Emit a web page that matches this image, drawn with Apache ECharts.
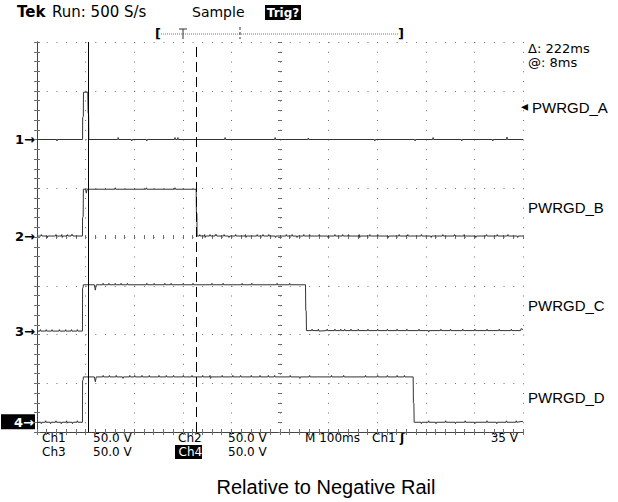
<!DOCTYPE html>
<html><head><meta charset="utf-8">
<script src="https://cdn.jsdelivr.net/npm/echarts@6/dist/echarts.min.js"></script>
<style>html,body{margin:0;padding:0;background:#fff}#c{width:618px;height:502px}</style>
</head><body><div id="c"></div>
<script>
// time axis: ms from left edge (M 100ms/div, 10 div); vertical axis: divisions (8 div)
const timeMin = 0, timeMax = 1000, timeStep = 100;
const divMin = 0, divMax = 8, divStep = 1;
const cursorA = 105, cursorB = 327; // ms
const channelNames = ['PWRGD_A', 'PWRGD_B', 'PWRGD_C', 'PWRGD_D'];
const groundLevels = [6.0, 4.02, 2.07, 0.2]; // channel reference markers (div)
const statusRow1 = ['Ch1', '50.0 V', 'Ch2', '50.0 V', 'M 100ms', 'Ch1', '35 V'];
const statusRow2 = ['Ch3', '50.0 V', 'Ch4', '50.0 V'];

const ch1 = [[0,6.0],[40,6.0],[41,5.97],[42,6.0],[93.8,6.0],[94,6.45],[95.3,6.47],[95.6,6.97],[104.5,6.97],[105.2,6.55],[106.2,6.52],[106.6,6.0],[166,6.0],[167,6.04],[168,6.0],[194,6.0],[195,5.97],[196,6.0],[225,6.0],[226,5.97],[227,6.0],[283,6.0],[284,6.04],[285,6.0],[289,6.0],[290,6.04],[291,6.0],[386,6.0],[387,6.04],[388,6.0],[489,6.0],[490,6.04],[491,6.0],[557,6.0],[558,6.03],[559,6.0],[694,6.0],[695,5.97],[696,6.0],[777,6.0],[778,5.97],[779,6.0],[814,6.0],[815,6.04],[816,6.0],[873,6.0],[874,5.97],[875,6.0],[937,6.0],[938,5.97],[939,6.0],[966,6.0],[967,6.05],[968,6.0],[1000,6.0]];

const ch2 = [[0,4.02],[8,4.02],[9,4.05],[10,4.02],[20,4.02],[21,3.99],[22,4.02],[38,4.02],[39,4.05],[40,4.02],[50,4.02],[51,4.05],[52,3.99],[53,4.02],[62,4.02],[63,4.05],[64,4.02],[70,4.02],[71,4.05],[72,4.03],[73,4.05],[74,4.02],[93.5,4.02],[93.8,4.4],[95,4.42],[95.4,4.98],[100,4.98],[101.5,4.9],[103,4.98],[160,4.98],[161,5.01],[162,4.98],[224,4.98],[225,5.01],[226,4.98],[283,4.98],[284,5.01],[285,4.98],[327.5,4.98],[328,4.5],[329,4.48],[329.4,4.02],[334,4.02],[335,4.05],[336,4.02],[344,4.02],[345,4.05],[346,3.99],[347,4.02],[355,4.02],[356,4.05],[357,4.02],[366,4.02],[367,4.05],[368,4.03],[369,4.05],[370,4.02],[384,4.02],[385,4.05],[386,4.02],[394,4.02],[395,3.99],[396,4.02],[408,4.02],[409,4.05],[410,4.02],[428,4.02],[429,4.05],[430,3.99],[431,4.02],[452,4.02],[453,4.05],[454,4.02],[464,4.02],[465,4.05],[466,4.02],[476,4.02],[477,4.05],[478,4.02],[490,4.02],[491,3.99],[492,4.02],[512,4.02],[513,4.05],[514,4.02],[524,4.02],[525,4.05],[526,4.02],[534,4.02],[535,3.99],[536,4.02],[548,4.02],[549,4.05],[550,4.02],[560,4.02],[561,4.05],[562,4.02],[580,4.02],[581,4.05],[582,4.02],[598,4.02],[599,3.99],[600,4.02],[612,4.02],[613,4.05],[614,4.02],[628,4.02],[629,4.05],[630,4.02],[640,4.02],[641,4.05],[642,4.02],[662,4.02],[663,4.05],[664,3.99],[665,4.02],[684,4.02],[685,4.05],[686,4.02],[700,4.02],[701,4.05],[702,4.02],[722,4.02],[723,3.99],[724,4.02],[744,4.02],[745,4.05],[746,4.02],[762,4.02],[763,4.05],[764,4.02],[790,4.02],[791,4.05],[792,4.02],[810,4.02],[811,3.99],[812,4.02],[834,4.02],[835,4.05],[836,4.02],[858,4.02],[859,4.05],[860,4.02],[878,4.02],[879,4.05],[880,4.02],[902,4.02],[903,3.99],[904,4.02],[924,4.02],[925,4.05],[926,4.02],[946,4.02],[947,4.05],[948,4.02],[968,4.02],[969,4.05],[970,4.02],[988,4.02],[989,3.99],[990,4.02],[1000,4.02]];

const ch3 = [[0,2.07],[6,2.07],[7,2.1],[8,2.07],[18,2.07],[19,2.1],[20,2.07],[30,2.07],[31,2.1],[32,2.07],[45,2.07],[46,2.1],[47,2.07],[58,2.07],[59,2.1],[60,2.07],[70,2.07],[71,2.1],[72,2.07],[82,2.07],[83,2.1],[84,2.07],[93.5,2.07],[93.8,2.95],[95,2.97],[95.4,3.02],[118,3.02],[120,2.91],[122,3.02],[135,3.02],[136,3.05],[137,3.02],[147,3.02],[148,3.05],[149,3.02],[160,3.02],[161,3.05],[162,3.02],[172,3.02],[173,3.05],[174,3.02],[185,3.02],[186,3.05],[187,3.02],[225,3.02],[226,3.05],[227,3.02],[240,3.02],[241,3.05],[242,3.02],[262,3.02],[263,3.05],[264,3.02],[275,3.02],[276,3.05],[277,3.02],[300,3.02],[301,3.05],[302,3.02],[320,3.02],[321,3.05],[322,3.02],[359,3.02],[360,3.05],[361,3.02],[382,3.02],[383,3.05],[384,3.02],[421,3.02],[422,3.05],[423,3.02],[441,3.02],[442,3.05],[443,3.02],[493,3.02],[494,3.05],[495,3.02],[519,3.02],[520,3.05],[521,3.02],[552.5,3.02],[553,2.5],[554,2.48],[554.4,2.08],[565,2.08],[566,2.11],[567,2.08],[578,2.08],[579,2.11],[580,2.07],[581,2.08],[596,2.08],[597,2.11],[598,2.08],[612,2.08],[613,2.11],[614,2.08],[624,2.08],[625,2.11],[626,2.08],[632,2.08],[633,2.11],[634,2.08],[645,2.08],[646,2.11],[647,2.08],[660,2.08],[661,2.11],[662,2.08],[680,2.08],[681,2.11],[682,2.08],[700,2.08],[701,2.11],[702,2.08],[720,2.08],[721,2.11],[722,2.08],[740,2.08],[741,2.11],[742,2.08],[760,2.08],[761,2.11],[762,2.08],[785,2.08],[786,2.11],[787,2.08],[805,2.08],[806,2.05],[807,2.08],[830,2.08],[831,2.11],[832,2.08],[850,2.08],[851,2.11],[852,2.08],[875,2.08],[876,2.11],[877,2.08],[900,2.08],[901,2.11],[902,2.08],[925,2.08],[926,2.11],[927,2.08],[950,2.08],[951,2.11],[952,2.08],[975,2.08],[976,2.11],[977,2.08],[995,2.08],[996,2.12],[1000,2.1]];

const ch4 = [[0,0.2],[8,0.2],[9,0.17],[10,0.2],[17,0.2],[18,0.23],[19,0.2],[27,0.2],[28,0.17],[29,0.2],[38,0.2],[39,0.23],[40,0.2],[49,0.2],[50,0.17],[51,0.2],[60,0.2],[61,0.23],[62,0.18],[63,0.2],[72,0.2],[73,0.17],[74,0.2],[82,0.2],[83,0.23],[84,0.2],[93.5,0.2],[93.8,1.05],[95,1.07],[95.4,1.13],[118,1.13],[120,1.03],[122,1.13],[135,1.13],[136,1.16],[137,1.13],[148,1.13],[149,1.16],[150,1.13],[162,1.13],[163,1.16],[164,1.13],[176,1.13],[177,1.1],[178,1.13],[190,1.13],[191,1.16],[192,1.13],[200,1.13],[201,1.16],[202,1.13],[215,1.13],[216,1.16],[217,1.13],[230,1.13],[231,1.16],[232,1.13],[250,1.13],[251,1.16],[252,1.13],[265,1.13],[266,1.16],[267,1.13],[280,1.13],[281,1.16],[282,1.13],[300,1.13],[301,1.16],[302,1.13],[318,1.13],[319,1.16],[320,1.13],[340,1.13],[341,1.16],[342,1.13],[355,1.13],[356,1.16],[357,1.1],[358,1.13],[380,1.13],[381,1.16],[382,1.13],[402,1.13],[403,1.16],[404,1.13],[418,1.13],[419,1.16],[420,1.13],[440,1.13],[441,1.16],[442,1.13],[458,1.13],[459,1.16],[460,1.13],[475,1.13],[476,1.16],[477,1.13],[488,1.13],[489,1.16],[490,1.13],[520,1.13],[521,1.16],[522,1.13],[540,1.13],[541,1.1],[542,1.13],[560,1.13],[561,1.16],[562,1.13],[605,1.13],[606,1.16],[607,1.13],[630,1.13],[631,1.16],[632,1.13],[675,1.13],[676,1.16],[677,1.13],[700,1.13],[701,1.16],[702,1.13],[720,1.13],[721,1.16],[722,1.13],[740,1.13],[741,1.16],[742,1.13],[755,1.13],[756,1.16],[757,1.13],[774,1.13],[774.5,0.6],[775.5,0.58],[776,0.2],[790,0.2],[791,0.17],[792,0.2],[805,0.2],[806,0.23],[807,0.2],[820,0.2],[821,0.17],[822,0.2],[840,0.2],[841,0.23],[842,0.2],[860,0.2],[861,0.17],[862,0.2],[880,0.2],[881,0.23],[882,0.2],[900,0.2],[901,0.17],[902,0.2],[925,0.2],[926,0.23],[927,0.2],[945,0.2],[946,0.17],[947,0.2],[965,0.2],[966,0.23],[967,0.2],[985,0.2],[986,0.23],[987,0.2],[1000,0.22]];

const traces = [ch1, ch2, ch3, ch4];

const chart = echarts.init(document.getElementById('c'), null, {renderer: 'svg'});
const traceColor = '#333', gridColor = '#6e6e6e', frameColor = '#444';
const tek = '"DejaVu Sans"';

function borderAxis(extra) {
  return Object.assign({
    type: 'value', min: timeMin, max: timeMax, interval: timeStep,
    axisLabel: {show: false},
    axisLine: {show: true, lineStyle: {color: frameColor, width: 1}},
    axisTick: {show: true, inside: true, length: 3, lineStyle: {color: gridColor}},
    minorTick: {show: true, splitNumber: 5, length: 3, lineStyle: {color: gridColor}},
    splitLine: {show: false}, minorSplitLine: {show: false}
  }, extra);
}
function borderYAxis(extra) {
  return Object.assign({
    type: 'value', min: divMin, max: divMax, interval: divStep,
    axisLabel: {show: false},
    axisLine: {show: true, lineStyle: {color: frameColor, width: 1}},
    axisTick: {show: true, inside: true, length: 3, lineStyle: {color: gridColor}},
    minorTick: {show: true, splitNumber: 5, length: 3, lineStyle: {color: gridColor}},
    splitLine: {show: false}, minorSplitLine: {show: false}
  }, extra);
}

const option = {
  animation: false,
  backgroundColor: '#fff',
  grid: {left: 37, top: 42, width: 486, height: 390, containLabel: false},
  xAxis: [
    borderAxis({position: 'bottom', splitLine: {show: true, lineStyle: {color: gridColor, width: 1, type: [1, 8.75]}}}),
    borderAxis({position: 'top'}),
    borderAxis({position: 'bottom', offset: -193, axisLine: {show: false}, axisTick: {show: true, inside: true, length: 4, lineStyle: {color: gridColor}}, minorTick: {show: true, splitNumber: 5, length: 4, lineStyle: {color: gridColor}}})
  ],
  yAxis: [
    borderYAxis({position: 'left', splitLine: {show: true, lineStyle: {color: gridColor, width: 1, type: [1, 8.72]}}}),
    borderYAxis({position: 'right'}),
    borderYAxis({position: 'left', offset: -241, axisLine: {show: false}, axisTick: {show: true, inside: true, length: 4, lineStyle: {color: gridColor}}, minorTick: {show: true, splitNumber: 5, length: 4, lineStyle: {color: gridColor}}})
  ],
  series: traces.map((d, i) => ({
    type: 'line', name: channelNames[i], data: d, xAxisIndex: 0, yAxisIndex: 0,
    showSymbol: false, symbol: 'none', silent: true,
    lineStyle: {color: traceColor, width: 1},
    markLine: i === 0 ? {
      symbol: 'none', silent: true, label: {show: false},
      data: [
        {xAxis: cursorA, lineStyle: {color: '#000', width: 1, type: 'solid'}},
        {xAxis: cursorB, lineStyle: {color: '#000', width: 1, type: [10, 5]}}
      ]
    } : undefined
  }))
};
chart.setOption(option);

function t(x, y, text, font, extra) {
  return {type: 'text', style: Object.assign({x, y, text, fill: '#000', font, verticalAlign: 'middle'}, extra || {})};
}

// reference markers at each channel's ground level, via the axis scale
const markerEls = groundLevels.map((lv, i) => {
  const y = chart.convertToPixel({yAxisIndex: 0}, lv);
  if (i === 3) {
    return {type: 'group', children: [
      {type: 'rect', shape: {x: 1, y: y - 8, width: 34, height: 15}, style: {fill: '#000'}},
      t(34, y, (i + 1) + '→', 'bold 13px ' + tek, {fill: '#fff', align: 'right'})
    ]};
  }
  return t(35, y, (i + 1) + '→', 'bold 13px ' + tek, {align: 'right'});
});

const labelY = [107, 207, 305, 397];
const labelEls = channelNames.map((n, i) => t(i === 0 ? 532 : 528, labelY[i], n, '15px "Liberation Sans"'));

const f12 = '12px ' + tek;
const statusX1 = [42, 93, 178, 228, 305, 372, 518];
const statusX2 = [42, 93, 178, 228];
const statusEls = [];
statusRow1.forEach((s, i) => statusEls.push(t(statusX1[i], 437.5, s, f12, Object.assign({lineHeight: 12}, i === 6 ? {align: 'right'} : {}))));
statusRow2.forEach((s, i) => {
  if (i === 2) {
    statusEls.push({type: 'rect', shape: {x: 175, y: 445, width: 27, height: 14}, style: {fill: '#000'}});
    statusEls.push(t(statusX2[i] + 0.5, 452, s, f12, {fill: '#fff', lineHeight: 12}));
  } else statusEls.push(t(statusX2[i], 452, s, f12, {lineHeight: 12}));
});

chart.setOption({
  graphic: [
    t(17, 12, 'Tek', 'bold 15px ' + tek),
    t(52, 12, 'Run: 500 S/s', '15px ' + tek),
    t(192, 12, 'Sample', '14px ' + tek),
    {type: 'rect', shape: {x: 265, y: 5, width: 36, height: 15}, style: {fill: '#000'}},
    t(283, 12.5, 'Trig?', 'bold 12px ' + tek, {fill: '#fff', align: 'center'}),
    t(155, 33, '[', 'bold 13px ' + tek),
    t(404, 33, ']', 'bold 13px ' + tek, {align: 'right'}),
    {type: 'line', shape: {x1: 161, y1: 34, x2: 398, y2: 34}, style: {stroke: '#777', lineWidth: 1, lineDash: [1, 1]}},
    {type: 'line', shape: {x1: 179, y1: 29, x2: 187, y2: 29}, style: {stroke: '#333', lineWidth: 1}},
    {type: 'line', shape: {x1: 183, y1: 29, x2: 183, y2: 39}, style: {stroke: '#333', lineWidth: 1}},
    {type: 'line', shape: {x1: 240, y1: 27, x2: 240, y2: 39}, style: {stroke: '#333', lineWidth: 1, lineDash: [3, 2]}},
    t(528, 48, 'Δ: 222ms', '13px ' + tek, {lineHeight: 13}),
    t(528, 62, '@: 8ms', '13px ' + tek, {lineHeight: 13}),
    t(521, 106, '◂', 'bold 14px ' + tek),
    ...labelEls,
    ...markerEls,
    ...statusEls,
    t(400, 437.5, 'ʃ', 'bold 12px ' + tek, {lineHeight: 12}),
    t(326, 487, 'Relative to Negative Rail', '20px "Liberation Sans"', {align: 'center'})
  ]
});
</script></body></html>
